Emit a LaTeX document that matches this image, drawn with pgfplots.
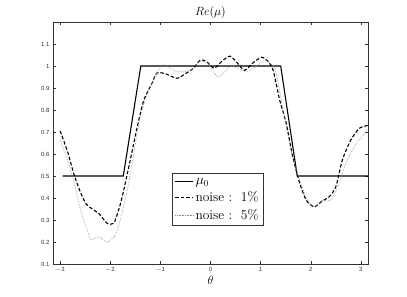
\documentclass[border=0pt]{standalone}
\usepackage{pgfplots}
\pgfplotsset{compat=1.18}
\usepackage{fontspec}
\setsansfont{Liberation Sans}
\begin{document}
\begin{tikzpicture}
\path[use as bounding box] (-53bp,-33bp) rectangle (354bp,264bp);
\begin{axis}[
  at={(0,0)}, anchor=south west,
  scale only axis, width=315bp, height=242bp,
  xmin=-3.1416, xmax=3.1416, ymin=0.1, ymax=1.2,
  xtick={-3,-2,-1,0,1,2,3},
  ytick={0.1,0.2,0.3,0.4,0.5,0.6,0.7,0.8,0.9,1,1.1},
  yticklabels={0.1,0.2,0.3,0.4,0.5,0.6,0.7,0.8,0.9,1,1.1},
  xticklabels={$-$3,$-$2,$-$1,0,1,2,3},
  tick align=inside, major tick length=3bp,
  tick style={black!80, line width=0.4pt},
  axis line style={black!80, line width=0.5pt},
  ticklabel style={font=\sffamily\fontsize{6}{7}\selectfont, text=black!80},
  title={$Re(\mu)$}, title style={font=\fontsize{13}{14}\selectfont, yshift=-6bp},
  xlabel={$\theta$}, xlabel style={font=\fontsize{13}{14}\selectfont, yshift=3bp},
  legend style={at={(0.378,0.375)}, anchor=north west, draw=black!80, line width=0.6pt,
     font=\fontsize{13.5}{14}\selectfont, row sep=2pt, inner sep=2.5pt},
  legend cell align=left,
  legend image code/.code={\draw[#1] (0cm,0cm) -- (0.62cm,0cm);},
]
\addplot[black, line width=1.1pt] coordinates {
(-2.95,0.5) (-1.74,0.5) (-1.39,1.0) (1.40,1.0) (1.73,0.5) (3.1416,0.5)};
\addlegendentry{$\mu_0$}
\addplot[black, line width=1.1pt, dash pattern=on 3.5pt off 2pt, smooth, tension=0.4] coordinates {
(-3.0,0.705) (-2.85,0.61) (-2.72,0.505) (-2.6,0.43) (-2.49,0.376) (-2.36,0.35) (-2.23,0.33)
(-2.06,0.285) (-1.93,0.285) (-1.84,0.34) (-1.76,0.406) (-1.63,0.542) (-1.46,0.724)
(-1.33,0.845) (-1.17,0.92) (-1.07,0.968) (-0.9,0.965) (-0.67,0.944) (-0.5,0.965)
(-0.34,0.99) (-0.2,1.027) (-0.08,1.02) (0.07,0.99) (0.22,1.02) (0.39,1.045) (0.55,1.01) (0.68,0.98)
(0.85,1.015) (1.02,1.04) (1.15,1.02) (1.25,0.98) (1.38,0.845) (1.51,0.74) (1.64,0.588)
(1.78,0.467) (1.91,0.39) (2.07,0.36) (2.22,0.385) (2.37,0.406) (2.50,0.451) (2.63,0.573)
(2.80,0.664) (2.97,0.717) (3.1416,0.73)};
\addlegendentry{noise\ :\ \ 1\%}
\addplot[black!45, line width=0.6pt, densely dotted, smooth, tension=0.4] coordinates {
(-3.0,0.664) (-2.85,0.57) (-2.72,0.467) (-2.59,0.345) (-2.46,0.255) (-2.39,0.21)
(-2.23,0.224) (-2.06,0.20) (-1.9,0.23) (-1.8,0.30) (-1.66,0.436) (-1.53,0.603)
(-1.4,0.77) (-1.23,0.89) (-1.04,0.98) (-0.94,1.005) (-0.8,0.99) (-0.67,0.974) (-0.41,0.98)
(-0.21,1.02) (-0.04,1.01) (0.15,0.95) (0.39,0.997) (0.55,0.99) (0.72,0.974) (0.92,1.0)
(1.11,1.027) (1.25,0.997) (1.31,0.967) (1.45,0.80) (1.6,0.62) (1.78,0.48) (1.94,0.39)
(2.07,0.36) (2.24,0.39) (2.40,0.39) (2.57,0.467) (2.70,0.558) (2.87,0.633) (3.1,0.70) (3.1416,0.71)};
\addlegendentry{noise\ :\ \ 5\%}
\end{axis}
\end{tikzpicture}
\end{document}
